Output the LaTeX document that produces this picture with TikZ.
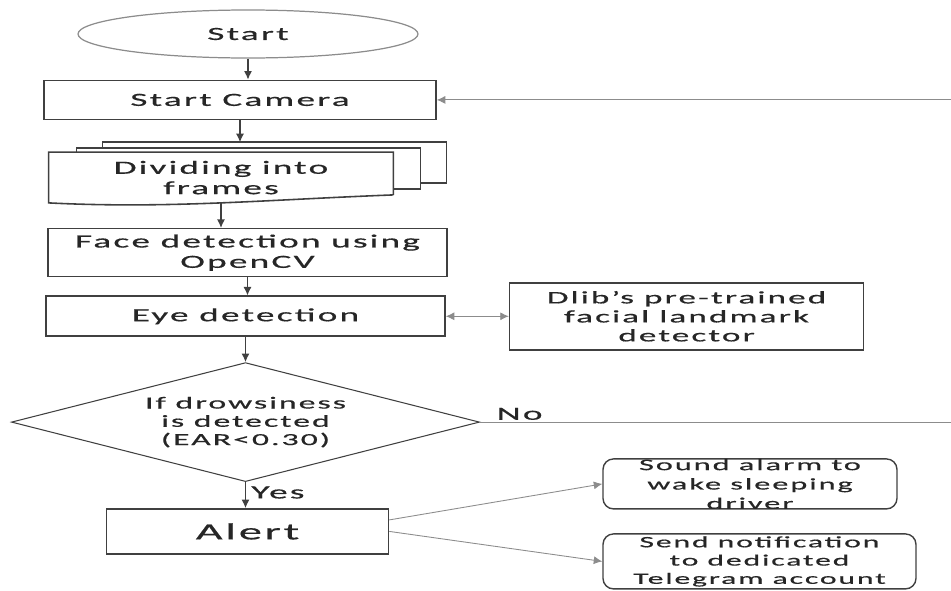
\documentclass[tikz,border=0pt]{standalone}
\usepackage{fontspec}
\setmainfont{Carlito}[FakeStretch=2.0,LetterSpace=12,FakeBold=0.6]
\usepackage{tikz}
\usetikzlibrary{arrows.meta,positioning,shapes.geometric,calc,backgrounds}
\definecolor{Ink}{HTML}{262626}
\definecolor{Edge}{HTML}{404040}
\definecolor{Muted}{HTML}{8C8C8C}

\begin{document}
\begin{tikzpicture}[
  font=\fontsize{10.6}{11.6}\selectfont,
  text=Ink,
  termin/.style={ellipse,draw=Muted,line width=0.7pt,minimum width=6.8cm,minimum height=0.96cm,inner sep=0pt},
  procbox/.style={rectangle,draw=Edge,line width=0.9pt,align=center,inner sep=0pt},
  docbox/.style={rectangle,fill=white,minimum width=6.88cm,minimum height=1.0cm,align=center,inner sep=0pt},
  docback/.style={draw=Edge,line width=0.9pt,fill=white},
  gate/.style={diamond,aspect=3.93,draw=Edge,line width=0.6pt,minimum width=9.36cm,minimum height=2.38cm,inner sep=0pt,align=center},
  roundbox/.style={rectangle,rounded corners=6pt,draw=Edge,line width=0.8pt},
  arrow/.style={-{Latex[length=1.7mm,width=1.6mm]},line width=0.7pt,draw=Edge},
  thinarrow/.style={-{Latex[length=1.7mm,width=1.6mm]},line width=0.5pt,draw=Muted},
  twoway/.style={{Latex[length=1.7mm,width=1.6mm]}-{Latex[length=1.7mm,width=1.6mm]},line width=0.5pt,draw=Muted}
]
\useasboundingbox (-4.96,0.68) rectangle (14.06,-11.12);

% main column
\node[termin] (start) at (0,0) {Start};
\node[procbox,below=0.42cm of start,xshift=-0.16cm,minimum width=7.84cm,minimum height=0.78cm] (cam) {Start Camera};
\node[docbox,below=0.64cm of cam,xshift=-0.38cm] (frames) {Dividing into\\frames};
\node[procbox,below=0.5cm of frames,xshift=0.53cm,minimum width=7.98cm,minimum height=0.96cm] (face) {Face detection using\\OpenCV};
\node[procbox,below=0.36cm of face,xshift=-0.04cm,minimum width=7.98cm,minimum height=0.8cm] (eye) {Eye detection};
\node[gate,below=0.5cm of eye,font=\fontsize{9.6}{10.4}\selectfont] (dec) {If drowsiness\\is detected\\(EAR<0.30)};
\node[procbox,below=0.52cm of dec,xshift=0.04cm,minimum width=5.64cm,minimum height=0.9cm,font=\fontsize{13.2}{14}\selectfont] (alert) {Alert};

% side boxes
\node[procbox,right=1.26cm of eye,minimum width=7.08cm,minimum height=1.34cm,font=\fontsize{10}{10.8}\selectfont] (dlib) {Dlib’s pre-trained\\facial landmark\\detector};
\node[roundbox,right=4.26cm of alert,yshift=0.95cm,minimum width=5.88cm,minimum height=1.0cm,
  label={[align=center,font=\fontsize{9.2}{11}\selectfont]center:Sound alarm to\\wake sleeping\\driver}] (alarm) {};
\node[roundbox,right=4.26cm of alert,yshift=-0.6cm,minimum width=6.26cm,minimum height=1.1cm,
  label={[align=center,font=\fontsize{9}{10.4}\selectfont]center:Send notification\\to dedicated\\Telegram account}] (notify) {};

% stacked frames behind the document box
\begin{pgfonlayer}{background}
\draw[docback] ([xshift=1.08cm,yshift=0.2cm]frames.north west) rectangle ++(6.88,-0.82);
\draw[docback] ([xshift=0.56cm,yshift=0.08cm]frames.north west) rectangle ++(6.88,-0.82);
\end{pgfonlayer}
\draw[docback,fill=none] ([yshift=0.16cm]frames.south east) -- (frames.north east) -- (frames.north west) -- (frames.south west)
  .. controls ++(2.4,-0.12) and ++(-2.6,-0.1) .. ([yshift=0.16cm]frames.south east);
\coordinate (stack) at ([yshift=0.2cm]frames.north);
\coordinate[right=9.6cm of dec.east] (loop);

% connectors
\draw[arrow] (start) -- (start |- cam.north);
\draw[arrow] (cam.south) -- (cam.south |- stack);
\draw[arrow] (frames.south) -- (frames.south |- face.north);
\draw[arrow] (face.south) -- (face.south |- eye.north);
\draw[arrow] (eye.south) -- (eye.south |- dec.north);
\draw[arrow] (dec.south) -- node[right,pos=0.4,inner sep=3pt]{Yes} (dec.south |- alert.north);
\draw[twoway] (eye.east) -- (dlib.west);
\draw[thinarrow] (dec.east) -- node[pos=0.03,above right,inner sep=1pt]{No} (loop) |- (cam.east);
\draw[thinarrow] ([yshift=0.23cm]alert.east) -- (alarm.west);
\draw[thinarrow] (alert.east) -- (notify.west);
\end{tikzpicture}
\end{document}
